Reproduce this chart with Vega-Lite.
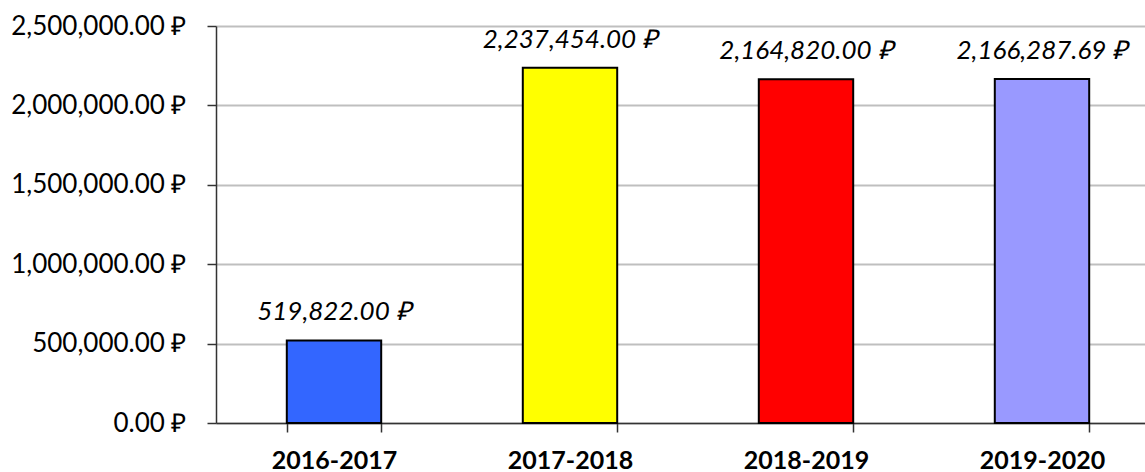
{
  "$schema": "https://vega.github.io/schema/vega-lite/v6.json",
  "width": 929,
  "height": 397,
  "autosize": {"type": "none"},
  "padding": {"left": 216, "top": 26, "right": 0, "bottom": 49},
  "background": "white",
  "config": {"view": {"stroke": null}, "font": "Lato"},
  "data": {
    "values": [
      {"period": "2016-2017", "value": 519822.00, "label": "519,822.00 ₽"},
      {"period": "2017-2018", "value": 2237454.00, "label": "2,237,454.00 ₽"},
      {"period": "2018-2019", "value": 2164820.00, "label": "2,164,820.00 ₽"},
      {"period": "2019-2020", "value": 2166287.69, "label": "2,166,287.69 ₽"}
    ]
  },
  "encoding": {
    "x": {
      "field": "period",
      "type": "nominal",
      "sort": null,
      "scale": {"range": [0, 944], "paddingInner": 0.6, "paddingOuter": 0.3},
      "axis": {
        "title": null,
        "labelAngle": 0,
        "labelFont": "Lato",
        "labelFontSize": 25,
        "labelFontWeight": "bold",
        "labelColor": "#000000",
        "labelPadding": 16,
        "tickBand": "extent",
        "tickSize": 9,
        "tickColor": "#333333",
        "tickWidth": 1.5,
        "domainColor": "#333333",
        "domainWidth": 1.5,
        "grid": false
      }
    }
  },
  "layer": [
    {
      "mark": {"type": "bar", "stroke": "#000000", "strokeWidth": 2},
      "encoding": {
        "y": {
          "field": "value",
          "type": "quantitative",
          "scale": {"domain": [0, 2500000], "nice": false},
          "axis": {
            "title": null,
            "values": [0, 500000, 1000000, 1500000, 2000000, 2500000],
            "labelExpr": "format(datum.value, ',.2f') + ' ₽'",
            "labelFont": "Lato",
            "labelFontSize": 26,
            "labelColor": "#000000",
            "labelPadding": 21,
            "tickSize": 9,
            "tickColor": "#333333",
            "tickWidth": 1.5,
            "domainColor": "#333333",
            "domainWidth": 1.5,
            "grid": true,
            "gridColor": "#BFBFBF",
            "gridWidth": 2
          }
        },
        "color": {
          "field": "period",
          "type": "nominal",
          "scale": {
            "domain": ["2016-2017", "2017-2018", "2018-2019", "2019-2020"],
            "range": ["#3366FF", "#FFFF00", "#FF0000", "#9999FF"]
          },
          "legend": null
        }
      }
    },
    {
      "mark": {"type": "text", "fontStyle": "italic", "fontSize": 26, "font": "Lato", "baseline": "bottom", "dy": -15, "color": "#000000"},
      "encoding": {
        "y": {"field": "value", "type": "quantitative"},
        "text": {"field": "label", "type": "nominal"}
      }
    }
  ]
}
